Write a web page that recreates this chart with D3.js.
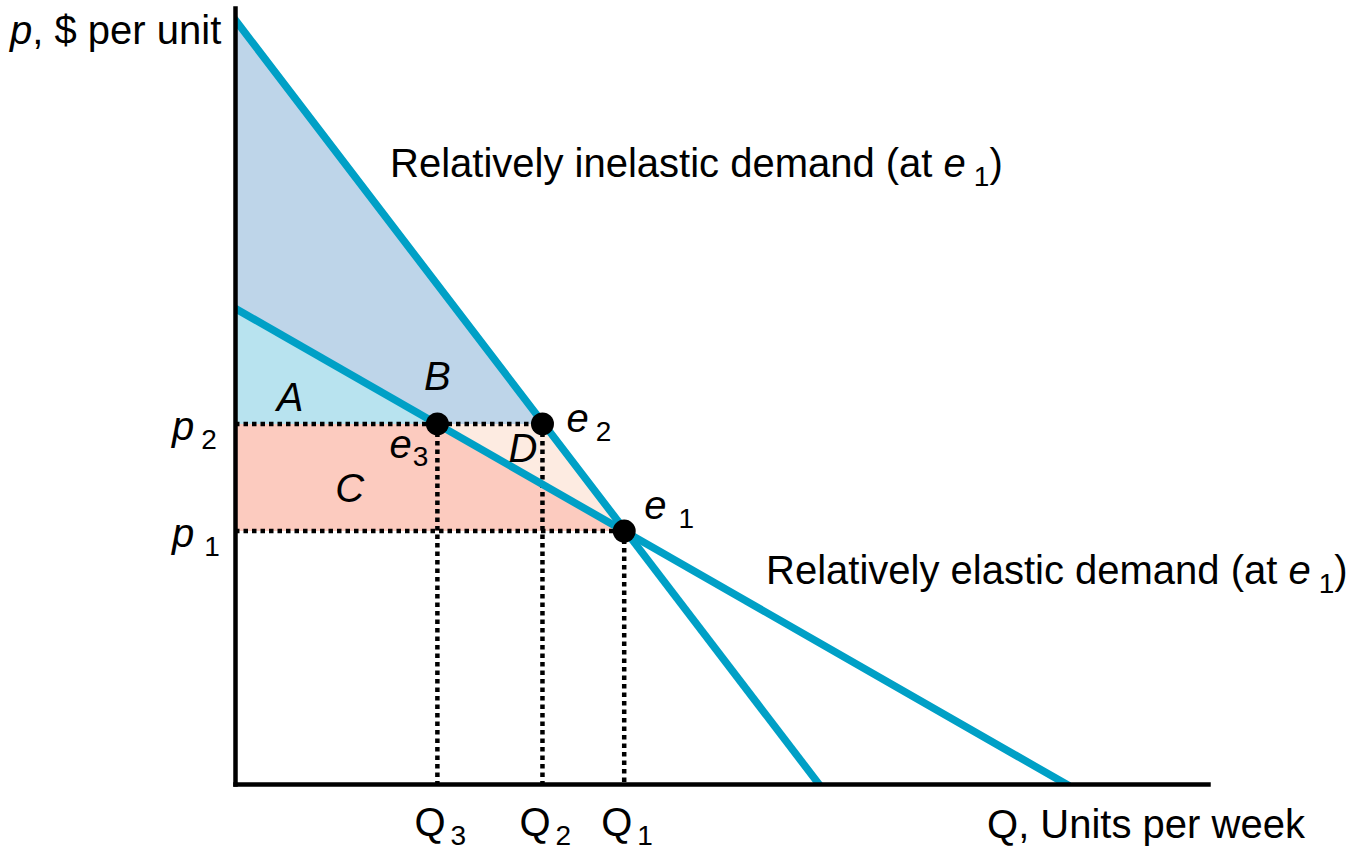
<!DOCTYPE html>
<html>
<head>
<meta charset="utf-8">
<script src="https://cdn.jsdelivr.net/npm/d3@7"></script>
<style>
  html, body { margin: 0; padding: 0; background: #fff; }
  svg { display: block; font-family: "Liberation Sans", Arial, sans-serif; }
</style>
</head>
<body>
<svg id="chart" width="1367" height="852"></svg>
<script>
// Quantities at the three equilibria (Q3, Q2, Q1) and prices (p2, p1)
const quantities = [20.8, 31.6, 40];
const quantitySubs = ["3", "2", "1"];
const prices = [46.4, 32.6];
const priceSubs = ["2", "1"];

// Two linear demand curves, given by their intercepts
const inelasticDemand = [[0, 98.5], [60, 0]];
const elasticDemand = [[0, 61.3], [85.4, 0]];

// Equilibrium points
const pointNames = ["e1", "e2", "e3"];
const pointQ = [40, 31.6, 20.8];
const pointP = [32.6, 46.4, 46.4];

const areaNames = ["A", "B", "C", "D"];

const svg = d3.select("#chart");
const x = d3.scaleLinear().domain([0, 100]).range([235, 1208]);
const y = d3.scaleLinear().domain([0, 100]).range([784, 8]);

const [Q3, Q2, Q1] = quantities;
const [p2, p1] = prices;
const inelTop = inelasticDemand[0][1];
const elTop = elasticDemand[0][1];

const line = d3.line().x(d => x(d[0])).y(d => y(d[1]));

// Shaded areas
const regions = [
  { pts: [[0, inelTop], [Q2, p2], [Q3, p2], [0, elTop]], fill: "#bed5e9" },
  { pts: [[0, elTop], [Q3, p2], [0, p2]], fill: "#b8e3ef" },
  { pts: [[0, p2], [Q3, p2], [Q1, p1], [0, p1]], fill: "#fccbbf" },
  { pts: [[Q3, p2], [Q2, p2], [Q1, p1]], fill: "#fdebe1" }
];
svg.append("g").selectAll("path").data(regions).join("path")
  .attr("d", d => line(d.pts) + "Z")
  .attr("fill", d => d.fill);

// Dotted guides
const guides = [
  [[0, p2], [Q2, p2]],
  [[0, p1], [Q1, p1]],
  [[Q3, p2], [Q3, 0]],
  [[Q2, p2], [Q2, 0]],
  [[Q1, p1], [Q1, 0]]
];
svg.append("g").selectAll("path").data(guides).join("path")
  .attr("d", line)
  .attr("fill", "none")
  .attr("stroke", "#000")
  .attr("stroke-width", 4.5)
  .attr("stroke-dasharray", "4.5,4");

// Demand curves, clipped to the plot quadrant
svg.append("clipPath").attr("id", "plot")
  .append("rect")
  .attr("x", x(0)).attr("y", 0)
  .attr("width", 1367 - x(0)).attr("height", y(0));

svg.append("g").attr("clip-path", "url(#plot)")
  .selectAll("path").data([inelasticDemand, elasticDemand]).join("path")
  .attr("d", line)
  .attr("fill", "none")
  .attr("stroke", "#00a0c6")
  .attr("stroke-width", 7.5)
  .attr("stroke-linecap", "square");

// Axes: plain lines, no ticks
const xAxis = svg.append("g").attr("transform", `translate(0,${y(0)})`)
  .call(d3.axisBottom(x).tickValues([]).tickSizeOuter(0));
const yAxis = svg.append("g").attr("transform", `translate(${x(0)},0)`)
  .call(d3.axisLeft(y).tickValues([]).tickSizeOuter(0));
[xAxis, yAxis].forEach(g => g.select(".domain")
  .attr("stroke", "#000").attr("stroke-width", 4.5).attr("stroke-linecap", "square"));

// Equilibrium dots
svg.append("g").selectAll("circle").data(pointQ).join("circle")
  .attr("cx", (d) => x(d))
  .attr("cy", (d, i) => y(pointP[i]))
  .attr("r", 11.5)
  .attr("fill", "#000");

// Text helpers
const FS = 40, SUB = 28;
function label(px, py, main, sub, opts = {}) {
  const t = svg.append("text")
    .attr("x", px).attr("y", py)
    .attr("font-size", FS)
    .attr("fill", "#000")
    .attr("text-anchor", opts.anchor || "start");
  if (opts.pre) t.append("tspan").text(opts.pre);
  t.append("tspan").text(main).attr("font-style", opts.upright ? "normal" : "italic");
  if (sub !== undefined) {
    t.append("tspan")
      .attr("font-size", SUB)
      .attr("dx", opts.gap === undefined ? 8 : opts.gap)
      .attr("dy", opts.subDy || 9)
      .text(sub);
  }
  if (opts.post) t.append("tspan").attr("dy", -(opts.subDy || 9)).text(opts.post);
  return t;
}

// Axis titles
const yTitle = svg.append("text").attr("x", 10).attr("y", 44).attr("font-size", FS);
yTitle.append("tspan").attr("font-style", "italic").text("p");
yTitle.append("tspan").text(", $ per unit");

const xTitle = svg.append("text").attr("x", 987).attr("y", 838).attr("font-size", FS);
xTitle.append("tspan").text("Q");
xTitle.append("tspan").text(", Units per week");

// Price labels
prices.forEach((p, i) => {
  label(172, y(p) + 16, "p", priceSubs[i], { gap: i === 0 ? 7 : 10 });
});

// Quantity labels
quantities.forEach((q, i) => {
  label(x(q) - 23, 836, "Q", quantitySubs[i], { upright: true, gap: 5, subDy: 9 });
});

// Equilibrium labels
label(x(pointQ[0]) + 20, y(pointP[0]) - 12, "e", "1", { gap: 12 });
label(x(pointQ[1]) + 24, y(pointP[1]) + 8, "e", "2", { gap: 7 });
label(x(pointQ[2]) - 48, y(pointP[2]) + 34, "e", "3", { gap: 1, subDy: 8 });

// Area labels
const areaPos = [[Q3 - 15.15, p2 + 1.7], [Q3, p2 + 4.4], [Q3 - 9, p1 + 3.7], [Q2 - 2, p2 - 4.9]];
areaNames.forEach((n, i) => {
  svg.append("text")
    .attr("x", x(areaPos[i][0])).attr("y", y(areaPos[i][1]))
    .attr("font-size", FS).attr("font-style", "italic")
    .attr("text-anchor", "middle")
    .text(n);
});

// Curve annotations
label(390, 177, "e", "1", { pre: "Relatively inelastic demand (at  ", post: ")", gap: 8 });
label(766, 584, "e", "1", { pre: "Relatively elastic demand (at  ", post: ")", gap: 8 });
</script>
</body>
</html>
